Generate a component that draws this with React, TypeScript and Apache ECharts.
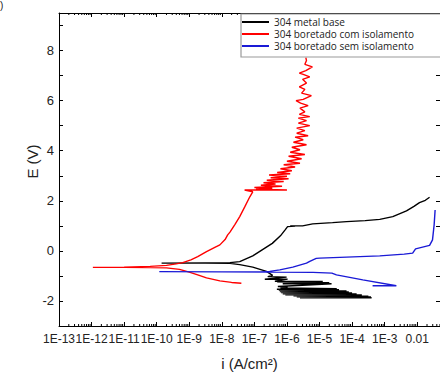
import React, { useEffect, useRef } from 'react';
import * as echarts from 'echarts';

// x values are log10 of the current density i (A/cm²); y values are E (V)
const xTickLabels = ['1E-13', '1E-12', '1E-11', '1E-10', '1E-9', '1E-8', '1E-7', '1E-6', '1E-5', '1E-4', '1E-3', '0.01'];
const yTickLabels = ['-2', '0', '2', '4', '6', '8'];
const seriesNames = ['304 metal base', '304 boretado com isolamento', '304 boretado sem isolamento'];
const seriesColors = ['#000000', '#ff0000', '#1a1ad6'];

const metalBase: [number, number][] = [
  [-3.40, -1.87], [-5.60, -1.87], [-3.42, -1.84], [-5.70, -1.83], [-3.50, -1.81], [-5.80, -1.79],
  [-3.70, -1.76], [-6.05, -1.75], [-3.86, -1.72], [-6.13, -1.71], [-4.00, -1.68], [-6.18, -1.66],
  [-4.10, -1.64], [-6.22, -1.62], [-4.17, -1.60], [-6.25, -1.57], [-4.40, -1.55], [-6.31, -1.53],
  [-4.47, -1.51], [-6.20, -1.48], [-5.98, -1.43], [-6.28, -1.42], [-4.63, -1.31], [-6.13, -1.31],
  [-4.70, -1.27], [-6.30, -1.24], [-4.90, -1.22], [-6.37, -1.21], [-5.98, -1.13], [-6.68, -1.13],
  [-6.01, -1.05], [-6.59, -1.03], [-6.44, -0.98], [-6.63, -0.82], [-7.05, -0.65], [-7.45, -0.55],
  [-7.75, -0.50], [-8.50, -0.49], [-9.85, -0.49], [-8.50, -0.48], [-7.75, -0.47], [-7.45, -0.43],
  [-7.05, -0.20], [-6.75, 0.05], [-6.45, 0.30], [-6.20, 0.60], [-6.05, 0.85], [-5.98, 0.97],
  [-5.75, 0.99], [-5.90, 1.00], [-5.52, 1.00], [-5.21, 1.08], [-4.60, 1.13], [-4.17, 1.17],
  [-3.60, 1.21], [-3.15, 1.26], [-2.75, 1.37], [-2.33, 1.60], [-2.10, 1.78], [-1.93, 1.93],
  [-1.75, 2.02], [-1.62, 2.14],
];

const boretadoCom: [number, number][] = [
  [-7.40, -1.29], [-7.70, -1.26], [-8.06, -1.20], [-8.47, -1.08], [-8.74, -0.96], [-9.00, -0.85],
  [-9.30, -0.74], [-9.70, -0.68], [-10.20, -0.67], [-11.00, -0.66], [-11.96, -0.66], [-11.00, -0.65],
  [-10.20, -0.62], [-9.70, -0.58], [-9.40, -0.52], [-9.20, -0.47], [-8.95, -0.36], [-8.74, -0.23],
  [-8.47, -0.03], [-8.20, 0.15], [-8.06, 0.24], [-7.90, 0.45], [-7.82, 0.64], [-7.75, 0.75],
  [-7.60, 1.05], [-7.45, 1.37], [-7.30, 1.75], [-7.14, 2.16], [-7.05, 2.36],
  [-7.30, 2.43], [-6.00, 2.43], [-6.95, 2.46], [-6.45, 2.50], [-7.00, 2.53], [-6.15, 2.58],
  [-6.80, 2.62], [-6.35, 2.67], [-6.72, 2.72], [-6.10, 2.77], [-6.62, 2.82], [-5.95, 2.88],
  [-6.50, 2.92], [-6.00, 2.98], [-6.55, 3.03], [-5.90, 3.08], [-6.30, 3.13], [-5.85, 3.20],
  [-6.20, 3.28], [-5.75, 3.35], [-6.10, 3.44], [-5.60, 3.50], [-6.00, 3.58], [-5.55, 3.68],
  [-5.95, 3.78], [-5.45, 3.85], [-5.90, 3.94], [-5.60, 4.04], [-5.85, 4.14], [-5.40, 4.24],
  [-5.80, 4.34], [-5.50, 4.44], [-5.75, 4.54], [-5.35, 4.60], [-5.70, 4.70], [-5.45, 4.80],
  [-5.70, 4.90], [-5.30, 5.00], [-5.65, 5.10], [-5.40, 5.20], [-5.65, 5.30], [-5.30, 5.36],
  [-5.62, 5.45], [-5.45, 5.55], [-5.60, 5.70], [-5.35, 5.80], [-5.58, 5.90], [-5.72, 6.00],
  [-5.50, 6.05], [-5.25, 6.20], [-5.55, 6.30], [-5.45, 6.45], [-5.62, 6.55], [-5.40, 6.70],
  [-5.52, 6.85], [-5.30, 6.95], [-5.50, 7.05], [-5.62, 7.10], [-5.42, 7.20], [-5.22, 7.35],
  [-5.45, 7.45], [-5.40, 7.60], [-5.42, 7.72],
];

const boretadoSem: [number, number][] = [
  [-3.37, -1.39], [-2.64, -1.39], [-3.67, -1.16], [-4.48, -0.96], [-4.62, -0.89], [-5.20, -0.86],
  [-6.50, -0.85], [-8.00, -0.84], [-9.92, -0.83], [-8.00, -0.84], [-6.80, -0.84], [-6.53, -0.82],
  [-6.22, -0.76], [-5.82, -0.65], [-5.40, -0.49], [-5.30, -0.42], [-5.10, -0.30], [-4.99, -0.29],
  [-4.17, -0.25], [-3.15, -0.20], [-2.40, -0.13], [-2.14, -0.09], [-2.05, 0.08], [-1.62, 0.22],
  [-1.53, 0.44], [-1.48, 1.04], [-1.45, 1.63],
];

const X_MIN = -13;
const X_MAX = -1.3;
const Y_MIN = -3;
const Y_MAX = 9.5;

const FONT = "'Liberation Sans', Arial, sans-serif";

// positions of the logarithmic minor ticks (2..9 within each decade)
const minorTicks: number[] = [];
for (let d = X_MIN; d < X_MAX; d++) {
  for (let k = 2; k <= 9; k++) {
    const v = d + Math.log10(k);
    if (v < X_MAX) minorTicks.push(v);
  }
}

const axisCommon = {
  type: 'value' as const,
  interval: 1,
  axisLine: { show: true, onZero: false, lineStyle: { color: '#000', width: 1 } },
  axisTick: { show: true, inside: true, length: 4, lineStyle: { color: '#000', width: 1 } },
  splitLine: { show: false },
};

export default function App() {
  const ref = useRef<HTMLDivElement>(null);

  useEffect(() => {
    document.body.style.margin = '0';
    if (!ref.current) return;
    const chart = echarts.init(ref.current, undefined, { renderer: 'svg' });

    const lineSeries = [metalBase, boretadoCom, boretadoSem].map((data, i) => ({
      type: 'line' as const,
      name: seriesNames[i],
      data,
      symbol: 'none',
      showSymbol: false,
      lineStyle: { color: seriesColors[i], width: 1.4 },
      itemStyle: { color: seriesColors[i] },
      clip: true,
      z: 2 + i,
    }));

    chart.setOption({
      animation: false,
      backgroundColor: '#ffffff',
      grid: { left: 59, right: 0, top: 13, bottom: 46, containLabel: false, outerBoundsMode: 'none' },
      xAxis: [
        {
          ...axisCommon,
          position: 'bottom',
          min: X_MIN,
          max: X_MAX,
          name: 'i (A/cm²)',
          nameLocation: 'middle',
          nameGap: 30,
          nameMoveOverlap: false,
          nameTextStyle: { fontFamily: FONT, fontSize: 15, color: '#222' },
          axisLabel: {
            fontFamily: FONT,
            fontSize: 12,
            color: '#222',
            margin: 7,
            showMinLabel: true,
            showMaxLabel: false,
            hideOverlap: false,
            formatter: (v: number) => {
              const r = Math.round(v);
              if (Math.abs(v - r) > 1e-6) return '';
              return xTickLabels[r - X_MIN] ?? '';
            },
          },
        },
        {
          ...axisCommon,
          position: 'top',
          min: X_MIN,
          max: X_MAX,
          axisLabel: { show: false },
        },
      ],
      yAxis: [
        {
          ...axisCommon,
          position: 'left',
          min: Y_MIN,
          max: Y_MAX,
          name: 'E (V)',
          nameLocation: 'middle',
          nameGap: 19,
          nameMoveOverlap: false,
          nameTextStyle: { fontFamily: FONT, fontSize: 15, color: '#222', padding: [0, 0, 0, 16] },
          axisLabel: {
            fontFamily: FONT,
            fontSize: 13,
            color: '#222',
            margin: 5,
            formatter: (v: number) => (yTickLabels.includes(String(v)) ? String(v) : ''),
          },
        },
        {
          ...axisCommon,
          position: 'right',
          min: Y_MIN,
          max: Y_MAX,
          axisLabel: { show: false },
        },
      ],
      legend: {
        data: seriesNames,
        orient: 'vertical',
        left: 241,
        top: 14,
        icon: 'rect',
        itemWidth: 27,
        itemHeight: 2,
        itemGap: 1,
        padding: [2.5, 40, 5.5, 1],
        backgroundColor: '#ffffff',
        borderColor: '#9a9a9a',
        borderWidth: 1.2,
        selectedMode: false,
        textStyle: { fontFamily: "'Open Sans', sans-serif", fontSize: 10, color: '#222', lineHeight: 11 },
        z: 10,
      },
      graphic: [
        { type: 'text', left: 0, top: 0, style: { text: ')', font: `10px ${FONT}`, fill: '#222' } },
      ],
      series: [
        ...lineSeries,
        {
          type: 'custom',
          name: 'minor ticks',
          silent: true,
          clip: false,
          xAxisIndex: 0,
          yAxisIndex: 0,
          z: 6,
          data: minorTicks.map((v) => [v, Y_MIN]),
          renderItem: (_params: any, api: any) => {
            const x = api.value(0);
            const b = api.coord([x, Y_MIN]);
            const t = api.coord([x, Y_MAX]);
            return {
              type: 'group',
              children: [
                { type: 'line', shape: { x1: b[0], y1: b[1], x2: b[0], y2: b[1] - 2 }, style: { stroke: '#000', lineWidth: 1 } },
                { type: 'line', shape: { x1: t[0], y1: t[1], x2: t[0], y2: t[1] + 2 }, style: { stroke: '#000', lineWidth: 1 } },
              ],
            };
          },
        },
      ],
    });

    return () => chart.dispose();
  }, []);

  return <div ref={ref} style={{ position: 'fixed', left: 0, top: 0, width: 440, height: 372 }} />;
}
